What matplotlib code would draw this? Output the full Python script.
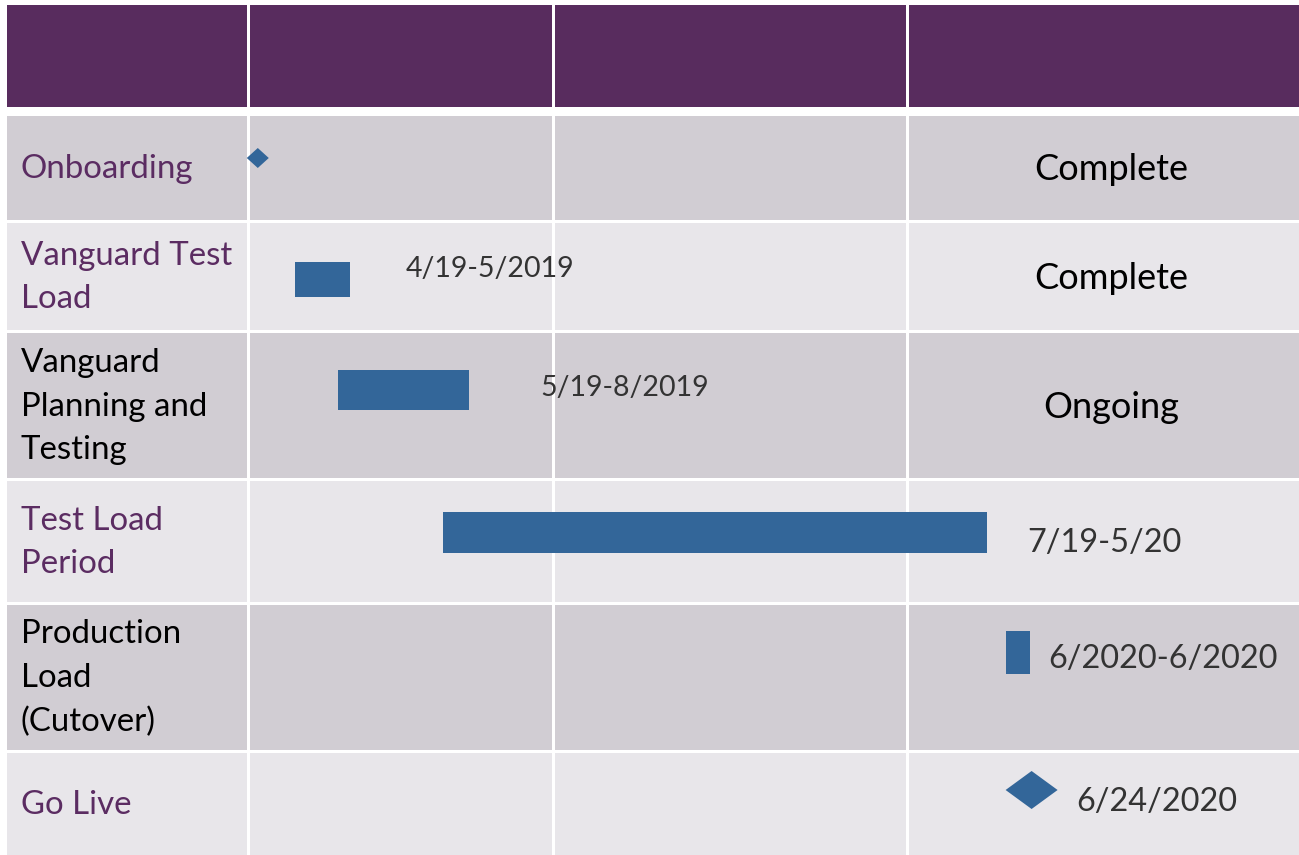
import matplotlib
matplotlib.use("Agg")
import matplotlib.pyplot as plt
from matplotlib.patches import Rectangle, Polygon

# ---- data (months counted from Jan 2019 = 0) ----
tasks = ["Onboarding", "Vanguard Test\nLoad", "Vanguard\nPlanning and\nTesting",
         "Test Load\nPeriod", "Production\nLoad\n(Cutover)", "Go Live"]
task_colors = ["#5b2c62", "#5b2c62", "black", "#5b2c62", "black", "#5b2c62"]
status = ["Complete", "Complete", "Ongoing", "", "", ""]

bar_rows = [1, 2, 3, 4]
bar_start = [3.26, 4.06, 6.0, 16.43]
bar_end = [4.28, 6.48, 16.07, 16.87]
bar_labels = ["4/19-5/2019", "5/19-8/2019", "7/19-5/20", "6/2020-6/2020"]

milestone_rows = [0, 5]
milestone_at = [2.57, 16.9]
milestone_labels = ["", "6/24/2020"]

# ---- layout (pixels) ----
W, H = 1299, 855
col_cells = [(7, 247), (250, 552), (555, 906), (909, 1299)]
header = (5, 107)
row_cells = [(116, 220), (223, 330), (333, 478), (481, 602), (605, 750), (753, 855)]
row_fill = ["#d1cdd3", "#e8e6ea"]
header_fill = "#582c5e"
bar_color = "#336699"
px_per_month = 54.0
px_origin = 119.0

bar_ybox = [(262, 297), (370, 410), (512, 553), (631, 674)]
bar_label_xy = [(406, 269), (540, 388), (1027, 543), (1048, 659)]
bar_label_size = [20.5, 20.5, 23.4, 23.4]
ms_box = [(22, 20, 158), (52, 38, 790)]   # width, height, y centre
ms_label_xy = [None, (1076, 802)]

font = "Lato"

fig = plt.figure(figsize=(W / 100, H / 100), dpi=100)
fig.patch.set_facecolor("white")

# background table in pixel units
ax = fig.add_axes([0, 0, 1, 1])
ax.set_xlim(0, W)
ax.set_ylim(H, 0)
ax.axis("off")

for c0, c1 in col_cells:
    ax.add_patch(Rectangle((c0, header[0]), c1 - c0, header[1] - header[0],
                           facecolor=header_fill, edgecolor="none"))
    for i, (r0, r1) in enumerate(row_cells):
        ax.add_patch(Rectangle((c0, r0), c1 - c0, r1 - r0,
                               facecolor=row_fill[i % 2], edgecolor="none"))

for i, (r0, r1) in enumerate(row_cells):
    ax.text(21, (r0 + r1) / 2 + 1, tasks[i], color=task_colors[i], fontsize=23.8,
            family=font, ha="left", va="center", linespacing=1.57)
    if status[i]:
        ax.text(1111, (r0 + r1) / 2 + 2, status[i], color="black", fontsize=26,
                family=font, ha="center", va="center")

# gantt overlay in month units
gx = fig.add_axes([0, 0, 1, 1])
gx.set_xlim(-px_origin / px_per_month, (W - px_origin) / px_per_month)
gx.set_ylim(H, 0)
gx.axis("off")
gx.patch.set_alpha(0)

for k, r in enumerate(bar_rows):
    y0, y1 = bar_ybox[k]
    gx.barh((y0 + y1) / 2, bar_end[k] - bar_start[k], left=bar_start[k],
            height=y1 - y0, color=bar_color)
    lx, ly = bar_label_xy[k]
    ax.text(lx, ly, bar_labels[k], color="#333333", fontsize=bar_label_size[k],
            family=font, ha="left", va="center")

for k, r in enumerate(milestone_rows):
    w, h, yc = ms_box[k]
    hw = w / 2 / px_per_month
    m = milestone_at[k]
    gx.add_patch(Polygon([(m - hw, yc), (m, yc - h / 2), (m + hw, yc), (m, yc + h / 2)],
                         closed=True, facecolor=bar_color, edgecolor="none"))
    if milestone_labels[k]:
        lx, ly = ms_label_xy[k]
        ax.text(lx, ly, milestone_labels[k], color="#333333", fontsize=23.4,
                family=font, ha="left", va="center")

fig.savefig("out.png", dpi=100)
